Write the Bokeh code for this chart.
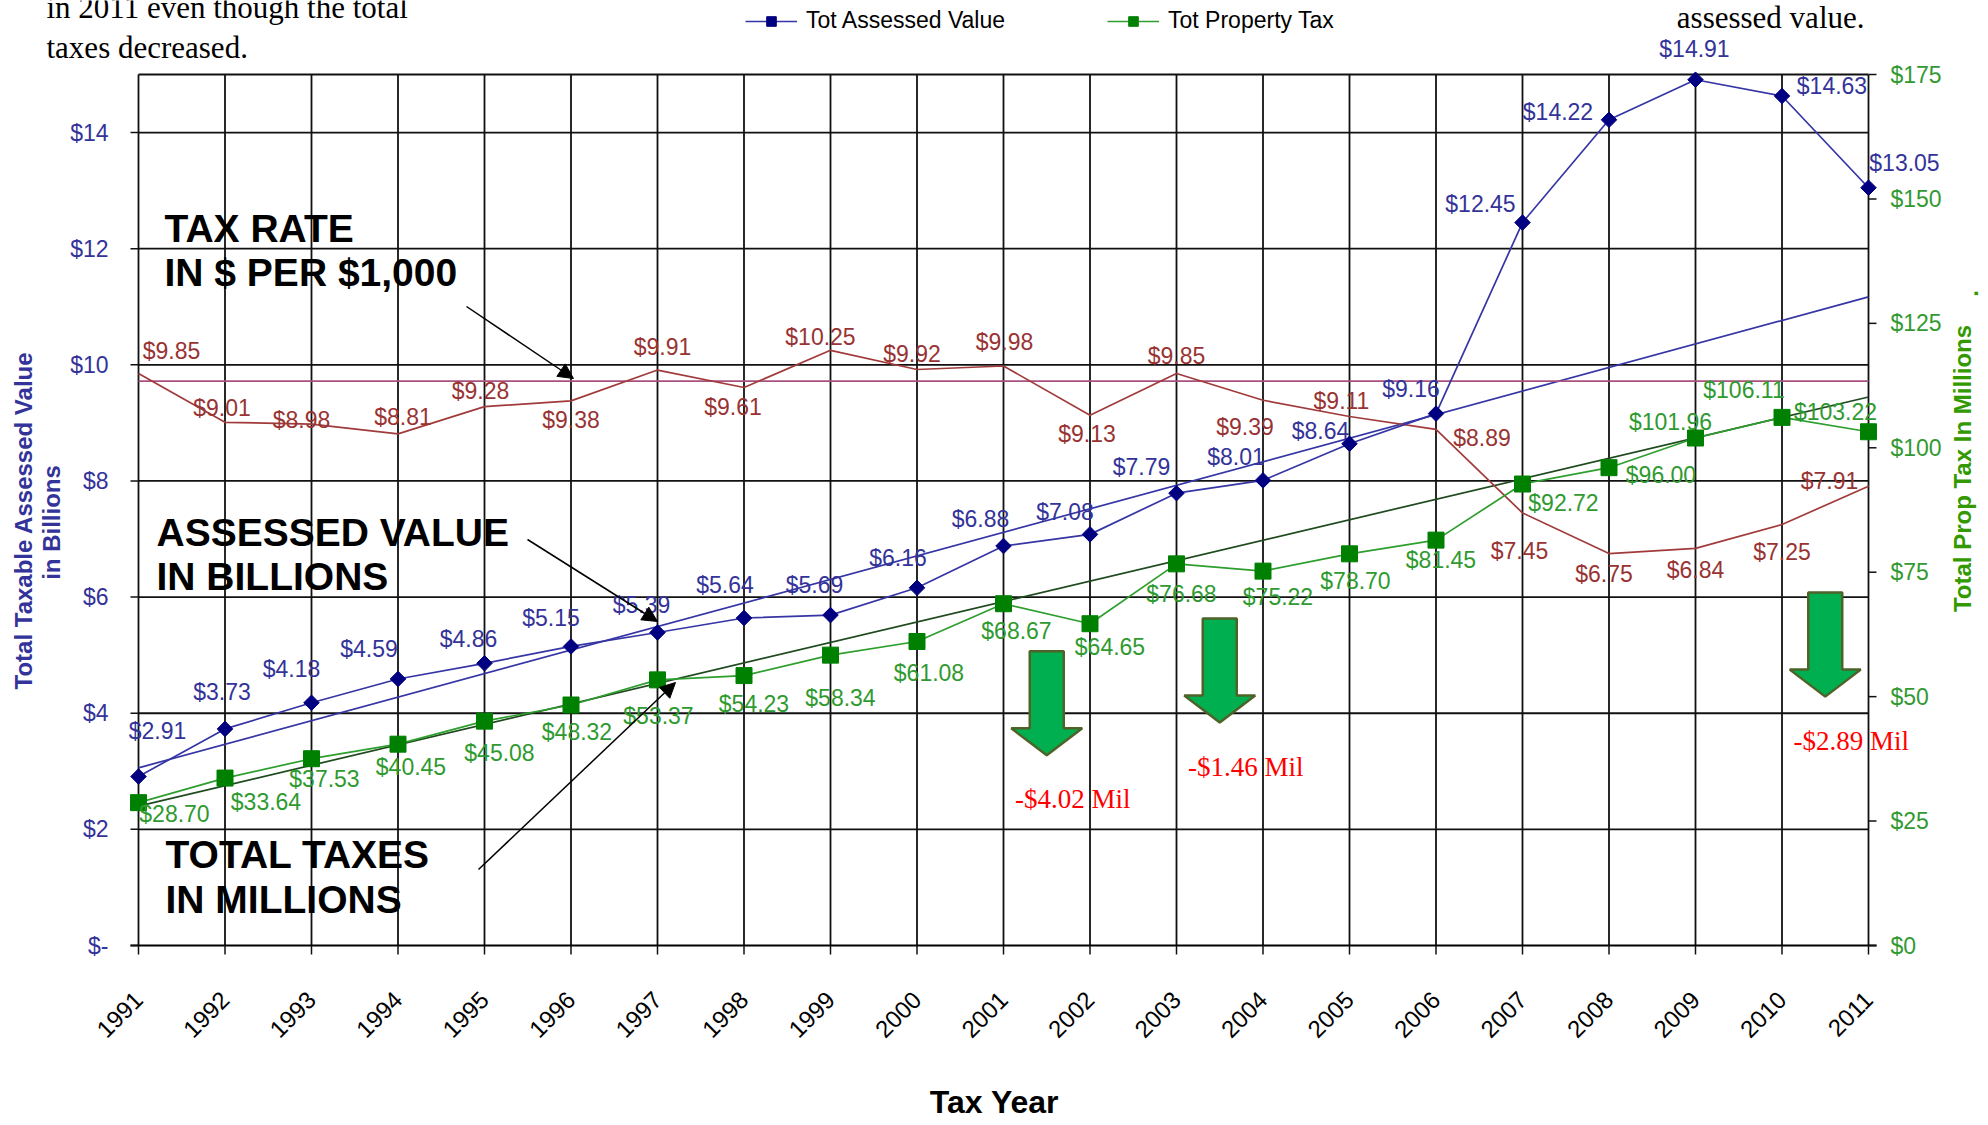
import math
from bokeh.plotting import figure
from bokeh.models import (ColumnDataSource, Range1d, FixedTicker, LabelSet, Label,
                          Legend, LegendItem, Arrow, NormalHead)
from bokeh.core.properties import value
from bokeh.embed import file_html
from bokeh.resources import INLINE

# ---------------- data ----------------
years = list(range(1991, 2012))
assessed_value_billions = [2.91, 3.73, 4.18, 4.59, 4.86, 5.15, 5.39, 5.64, 5.69, 6.16, 6.88,
                           7.08, 7.79, 8.01, 8.64, 9.16, 12.45, 14.22, 14.91, 14.63, 13.05]
property_tax_millions = [28.70, 33.64, 37.53, 40.45, 45.08, 48.32, 53.37, 54.23, 58.34, 61.08, 68.67,
                         64.65, 76.68, 75.22, 78.70, 81.45, 92.72, 96.00, 101.96, 106.11, 103.22]
tax_rate_per_1000 = [9.85, 9.01, 8.98, 8.81, 9.28, 9.38, 9.91, 9.61, 10.25, 9.92, 9.98,
                     9.13, 9.85, 9.39, 9.11, 8.89, 7.45, 6.75, 6.84, 7.25, 7.91]
reference_rate = 9.72
trend_years = [1991, 2011]
assessed_trend = [3.06, 11.17]
tax_trend = [28.0, 110.2]
left_ticks = [0, 2, 4, 6, 8, 10, 12, 14]
left_tick_labels = ["$-", "$2", "$4", "$6", "$8", "$10", "$12", "$14"]
left_max = 15
right_ticks = [0, 25, 50, 75, 100, 125, 150, 175]
right_tick_labels = ["$0", "$25", "$50", "$75", "$100", "$125", "$150", "$175"]
right_max = 175
drop_arrow_tops = [59.1, 65.7, 70.9]   # top of the green drop arrows (right-axis units)

# label offsets in px (+x right, +y up)
av_dx = [19, -3, -20, -29, -16, -20, -16, -19, -16, -19, -23, -25, -35, -27, -29, -25, -42, -51, -1, 50, 36]
av_dy = [46, 37, 34, 30, 24, 28, 28, 33, 30, 30, 27, 22, 26, 23, 13, 25, 19, 8, 31, 10, 25]
tx_dx = [36, 41, 13, 13, 15, 6, 1, 10, 10, 12, 13, 20, 5, 15, 6, 5, 41, 52, -25, -38, -33]
tx_dy = [-11, -24, -20, -23, -32, -27, -36, -28, -43, -32, -27, -23, -30, -26, -27, -20, -19, -7, 16, 27, 20]
rate_dx = [33, -3, -10, 5, -4, 0, 5, -11, -10, -5, 1, -3, 0, -18, -8, 46, -3, -5, 0, 0, -39]
rate_dy = [23, 14, 4, 17, 16, -19, 23, -20, 13, 15, 24, -19, 18, -27, 16, -9, -38, -20, -22, -27, 5]

# ---------------- geometry (page px) ----------------
W, H = 1988, 1125
B_L, B_R, B_T, B_B = 138, 1868, 74, 945        # plot border on the page
PAD_B = 11                                      # frame reaches a little below the zero line
F_B = B_B + PAD_B
px_year = (B_R - B_L) / (years[-1] - years[0])
px_left = (B_B - B_T) / left_max
px_right = (B_B - B_T) / right_max
TICK = 8
XTICK = 9

def sx(X):
    return X

def sy(Y):
    return F_B - Y

p = figure(width=W, height=H, output_backend="svg", toolbar_location=None, tools="", title=None,
           x_range=Range1d(years[0] - B_L / px_year, years[0] + (W - B_L) / px_year),
           y_range=Range1d(-PAD_B / px_left, B_B / px_left),
           y_axis_location=None, x_axis_location="below",
           min_border_left=0, min_border_right=0, min_border_top=0, min_border_bottom=H - F_B)
p.extra_y_ranges = {"tax": Range1d(-PAD_B / px_right, B_B / px_right)}
p.outline_line_color = None
p.xgrid.grid_line_color = None
p.ygrid.grid_line_color = None
p.background_fill_color = "white"
p.border_fill_color = "white"

FONT = "Liberation Sans"

# x axis (real Bokeh axis below the frame; its ticks are drawn at the zero line)
xa = p.xaxis[0]
xa.ticker = FixedTicker(ticks=years)
xa.major_label_orientation = math.pi / 4
xa.major_label_text_font = FONT
xa.major_label_text_font_size = "24px"
xa.major_label_text_color = "#000000"
xa.major_tick_out = 0
xa.major_tick_in = 0
xa.minor_tick_out = 0
xa.minor_tick_in = 0
xa.major_tick_line_color = None
xa.minor_tick_line_color = None
xa.axis_line_color = None
xa.major_label_standoff = 39
xa.axis_label = "Tax Year"
xa.axis_label_text_font = FONT
xa.axis_label_text_font_style = "bold"
xa.axis_label_text_font_size = "32px"
xa.axis_label_text_color = "#000000"
xa.axis_label_standoff = 36

# grid lines (bounded to the plot border)
hy = left_ticks[1:] + [left_max]
p.segment(x0=[years[0]] * len(hy), y0=hy, x1=[years[-1]] * len(hy), y1=hy,
          line_color="#111111", line_width=1.8)
p.segment(x0=years, y0=[0] * len(years), x1=years, y1=[left_max] * len(years),
          line_color="#111111", line_width=1.8)
# zero line / category axis line and ticks
p.segment(x0=[years[0] - TICK / px_year], y0=[0], x1=[years[-1] + TICK / px_year], y1=[0],
          line_color="#000000", line_width=2.2)
p.segment(x0=years, y0=[0] * len(years), x1=years, y1=[-XTICK / px_left] * len(years),
          line_color="#111111", line_width=1.5)

# value axes: ticks and tick labels
p.segment(x0=[years[0] - TICK / px_year] * len(left_ticks), y0=left_ticks,
          x1=[years[0]] * len(left_ticks), y1=left_ticks, line_color="#111111", line_width=1.5)
p.segment(x0=[years[-1]] * len(right_ticks), y0=right_ticks,
          x1=[years[-1] + TICK / px_year] * len(right_ticks), y1=right_ticks,
          y_range_name="tax", line_color="#111111", line_width=1.5)
p.add_layout(LabelSet(x="x", y="y", text="t", x_offset=-30, text_align="right", text_baseline="middle",
                      source=ColumnDataSource(dict(x=[years[0]] * len(left_ticks), y=left_ticks,
                                                   t=left_tick_labels)),
                      text_font=value(FONT), text_font_size="23px", text_color="#333399"))
p.add_layout(LabelSet(x="x", y="y", text="t", x_offset=22, text_align="left", text_baseline="middle",
                      y_range_name="tax",
                      source=ColumnDataSource(dict(x=[years[-1]] * len(right_ticks), y=right_ticks,
                                                   t=right_tick_labels)),
                      text_font=value(FONT), text_font_size="23px", text_color="#339933"))

# green drop arrows
drops = [i for i in range(1, len(years)) if property_tax_millions[i] < property_tax_millions[i - 1]]
shaft_hw = 17 / px_year
head_hw = 35.5 / px_year
shaft_len = 77 / px_right
head_len = 27 / px_right
axs, ays, drop_x, drop_text = [], [], [], []
for k, i in enumerate(drops):
    cx = (years[i - 1] + years[i]) / 2
    top = drop_arrow_tops[k]
    axs.append([cx - shaft_hw, cx + shaft_hw, cx + shaft_hw, cx + head_hw, cx, cx - head_hw, cx - shaft_hw])
    ays.append([top, top, top - shaft_len, top - shaft_len, top - shaft_len - head_len,
                top - shaft_len, top - shaft_len])
    drop_x.append(cx)
    drop_text.append("-$%.2f Mil" % abs(property_tax_millions[i] - property_tax_millions[i - 1]))
p.patches(xs=axs, ys=ays, y_range_name="tax", fill_color="#00b050", line_color="#4f6228", line_width=2.5)
drop_src = ColumnDataSource(dict(x=drop_x, y=drop_arrow_tops, t=drop_text))
p.add_layout(LabelSet(x="x", y="y", text="t", source=drop_src, y_range_name="tax",
                      x_offset=26, y_offset=-157, text_align="center", text_baseline="alphabetic",
                      text_font=value("Liberation Serif"), text_font_size="27px", text_color="#ff0000"))

# trend and reference lines
p.line(trend_years, assessed_trend, line_color="#3535a5", line_width=1.7)
p.line(trend_years, tax_trend, y_range_name="tax", line_color="#1e4a1e", line_width=1.7)
p.line([years[0], years[-1]], [reference_rate, reference_rate], line_color="#a8507e", line_width=1.7)

# series
p.line(years, tax_rate_per_1000, line_color="#a13b3b", line_width=1.7)
av_line = p.line(years, assessed_value_billions, line_color="#3535a5", line_width=1.7)
av_pts = p.scatter(years, assessed_value_billions, marker="square", angle=math.pi / 4, size=11,
                   fill_color="#000080", line_color="#000080")
tx_line = p.line(years, property_tax_millions, y_range_name="tax", line_color="#2e9e2e", line_width=1.7)
tx_pts = p.scatter(years, property_tax_millions, y_range_name="tax", marker="square", size=16,
                   fill_color="#008000", line_color="#008000")

# data labels
def labels(vals, dx, dy, color, rng=None):
    src = ColumnDataSource(dict(x=years, y=vals, t=["$%.2f" % v for v in vals], dx=dx, dy=dy))
    kw = dict(y_range_name=rng) if rng else {}
    p.add_layout(LabelSet(x="x", y="y", text="t", x_offset="dx", y_offset="dy", source=src,
                          text_align="center", text_baseline="middle", text_font=value(FONT),
                          text_font_size="23px", text_color=color, **kw))

labels(tax_rate_per_1000, rate_dx, rate_dy, "#993333")
labels(assessed_value_billions, av_dx, av_dy, "#333399")
labels(property_tax_millions, tx_dx, tx_dy, "#2f9a2f", "tax")

# legend
legend = Legend(items=[LegendItem(label="Tot Assessed Value", renderers=[av_line, av_pts]),
                       LegendItem(label="Tot Property Tax", renderers=[tx_line, tx_pts])],
                orientation="horizontal", location=(sx(745), sy(34)), glyph_width=52, glyph_height=24,
                label_height=24, label_standoff=9, spacing=102, padding=0, margin=0,
                border_line_color=None, background_fill_alpha=0, label_text_font=FONT,
                label_text_font_size="23px", label_text_color="#000000")
p.add_layout(legend)

# text annotations (y = visual middle of the text line)
def page_label(text, X, Y, **kw):
    p.add_layout(Label(x=sx(X), y=sy(Y), x_units="screen", y_units="screen", text=text, **kw))

big = dict(text_font=FONT, text_font_style="bold", text_font_size="39px", text_color="#000000",
           text_baseline="middle", text_align="left")
page_label("TAX RATE", 164, 228, **big)
page_label("IN $ PER $1,000", 164, 272, **big)
page_label("ASSESSED VALUE", 156, 532, **big)
page_label("IN BILLIONS", 156, 576, **big)
page_label("TOTAL TAXES", 165, 854, **big)
page_label("IN MILLIONS", 165, 899, **big)

serif = dict(text_font="Liberation Serif", text_font_size="31px", text_color="#000000",
             text_baseline="middle")
page_label("in 2011 even though the total", 46, 6.5, text_align="left", **serif)
page_label("taxes decreased.", 46, 46.5, text_align="left", **serif)
page_label("assessed value.", 1864, 16.5, text_align="right", **serif)

axt = dict(text_font=FONT, text_font_style="bold", text_font_size="24px", angle=math.pi / 2,
           text_align="center", text_baseline="middle")
page_label("Total Taxable Assessed Value", 23, 520, text_color="#333399", **axt)
page_label("in Billions", 51, 522, text_color="#333399", **axt)
page_label("Total Prop Tax In Millions", 1962, 468, text_color="#339900", **axt)
page_label(".", 1969, 293, text_color="#339900", **axt)

# black pointer arrows
for (x0, y0, x1, y1) in [(466, 306, 573, 378), (527, 539, 657, 621), (478, 869, 675, 682)]:
    p.add_layout(Arrow(end=NormalHead(size=15, fill_color="#000000", line_color="#000000"),
                       x_start=sx(x0), y_start=sy(y0), x_end=sx(x1), y_end=sy(y1),
                       start_units="screen", end_units="screen", line_color="#000000", line_width=1.5))

open("out.html", "w").write(file_html(p, INLINE))
